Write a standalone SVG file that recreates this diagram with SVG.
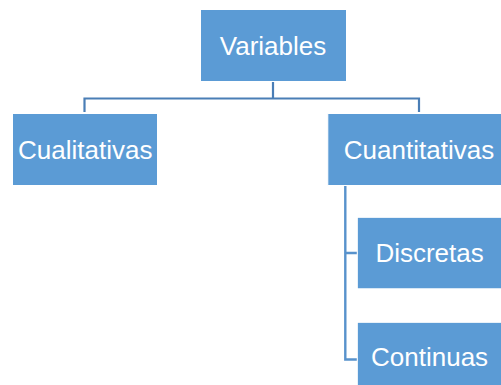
<svg xmlns="http://www.w3.org/2000/svg" width="501" height="385" viewBox="0 0 501 385">
<style>
.box{fill:#5B9BD5;stroke:#FFFFFF;stroke-width:1}
.lbl{font-family:"Liberation Sans",Arial,sans-serif;font-size:26px;fill:#FFFFFF;text-anchor:middle}
.c1{fill:none;stroke:#4A7EB6;stroke-width:2.2}
.c2{fill:none;stroke:#5892CC;stroke-width:2.4}
</style>
<rect width="501" height="385" fill="#FFFFFF"/>
<g id="connectors">
<path class="c1" d="M273 81 V98.5 M84.5 112 V98.5 H419 V112"/>
<path class="c2" d="M345.3 186 V359.5 H357 M345.3 253 H357"/>
</g>
<g id="n-variables"><rect class="box" x="200.5" y="9.5" width="146" height="72"/><text class="lbl" x="273" y="54.5">Variables</text></g>
<g id="n-cualitativas"><rect class="box" x="12.5" y="113.5" width="145" height="72"/><text class="lbl" x="85.3" y="158.5">Cualitativas</text></g>
<g id="n-cuantitativas"><rect class="box" x="327.8" y="113.5" width="183" height="72"/><text class="lbl" x="419" y="158.5">Cuantitativas</text></g>
<g id="n-discretas"><rect class="box" x="357.3" y="217.3" width="146" height="71.5"/><text class="lbl" x="429.6" y="261.5">Discretas</text></g>
<g id="n-continuas"><rect class="box" x="357.3" y="322.3" width="146" height="71.5"/><text class="lbl" x="429.6" y="366">Continuas</text></g>
</svg>
